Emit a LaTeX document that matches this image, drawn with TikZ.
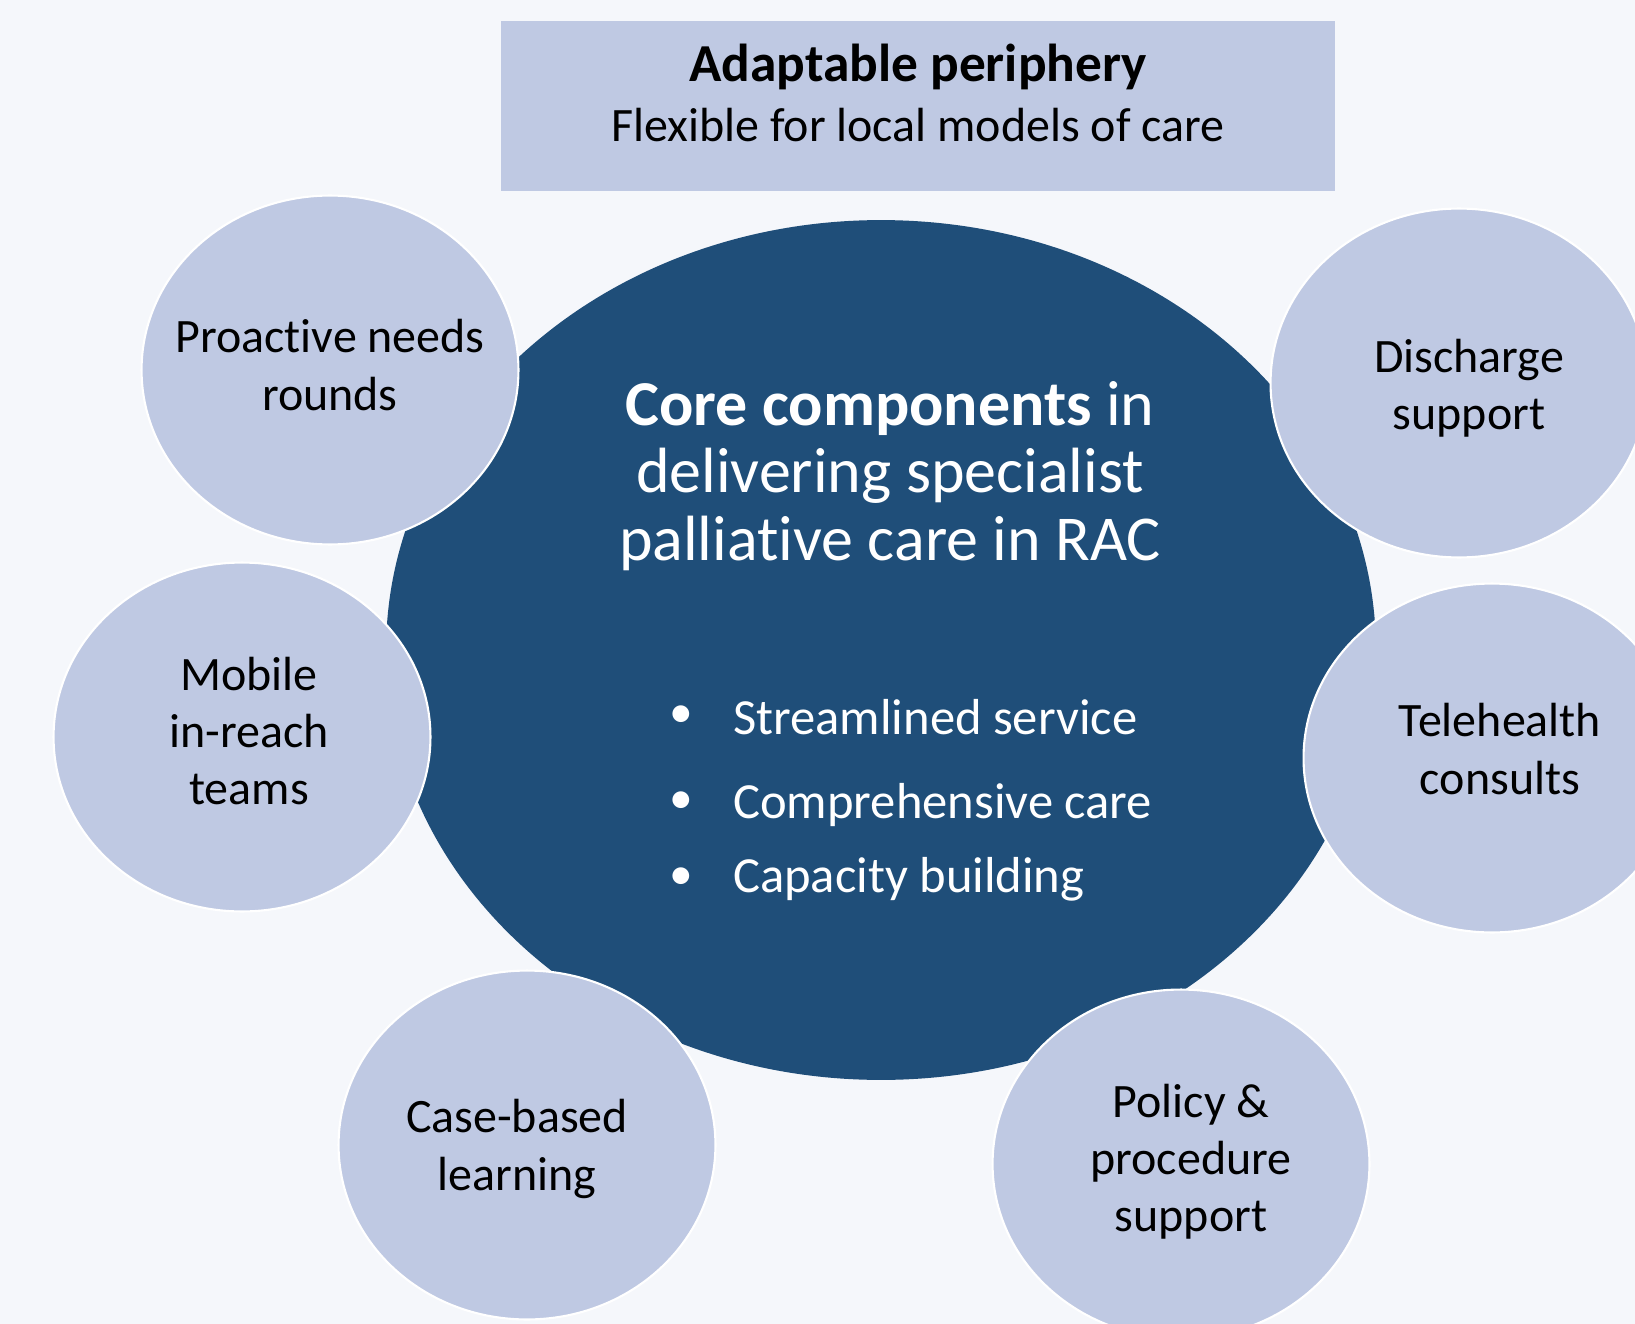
\documentclass[tikz,border=0pt]{standalone}
\usepackage{fontspec}
\setmainfont{Carlito}[Ligatures={NoCommon}]
\usetikzlibrary{shapes.geometric}
\newcommand\myti{t\kern0pt i}
\definecolor{bgcol}{HTML}{F5F7FB}
\definecolor{darkblue}{HTML}{1F4E79}
\definecolor{lightblue}{HTML}{BFC9E3}
\tikzset{
  periph/.style={ellipse, fill=lightblue, draw=white, line width=1.2pt,
    minimum width=7.54cm, minimum height=6.98cm, inner sep=0pt},
  ptext/.style={align=center, inner sep=0pt, text=black,
    font=\fontsize{27.3}{32.5}\selectfont},
  core/.style={ellipse, fill=darkblue, draw=none, minimum width=19.8cm, minimum height=17.2cm, inner sep=0pt},
  coretitle/.style={text=white, align=center, inner sep=0pt, font=\fontsize{36.4}{38.4}\selectfont},
  bulletmark/.style={text=white, font=\fontsize{27}{30}\selectfont},
  bullettext/.style={text=white, anchor=west, font=\fontsize{28.8}{32}\selectfont},
  topbox/.style={fill=lightblue, draw=none, minimum width=16.68cm, minimum height=3.4cm, inner sep=0pt}
}
\begin{document}
\begin{tikzpicture}[x=0.02cm, y=-0.02cm]
\useasboundingbox (0,0) rectangle (1635,1324);
\clip (0,0) rectangle (1635,1324);
\fill[bgcol] (0,0) rectangle (1635,1324);
% top box
\node[topbox] (top) at (918,106) {};
\node[font=\fontsize{30.4}{34}\selectfont\bfseries] (toptitle) at (918,67) {Adaptable periphery};
\node[font=\fontsize{27.3}{34}\selectfont] (topsub) at (918,125) {Flexible for local models of care};
% core
\node[core] (core) at (881,650) {};
\node[coretitle] (coretxt) at (890,476) {\textbf{Core components} in\\delivering specialist\\pallia\myti ve care in RAC};
\node[bulletmark] (b1) at (681,717) {•};
\node[bulletmark] (b2) at (681,803) {•};
\node[bulletmark] (b3) at (681,879) {•};
\node[bullettext] (t1) at (727,717) {Streamlined service};
\node[bullettext] (t2) at (727,805) {Comprehensive care};
\node[bullettext] (t3) at (727,879) {Capacity building};
% periphery circles
\node[periph] (proactive) at (330,370) {};
\node[periph] (discharge) at (1459,383) {};
\node[periph] (mobile) at (242,737) {};
\node[periph] (tele) at (1492,758) {};
\node[periph] (casebased) at (527,1145) {};
\node[periph] (policy) at (1181,1164) {};
\node[ptext] (proactivetxt) at (330,365) {Proac\myti ve needs\\rounds};
\node[ptext] (dischargetxt) at (1469,388) {Discharge\\support};
\node[ptext] (mobiletxt) at (249,731) {Mobile\\in-reach\\teams};
\node[ptext] (teletxt) at (1500,749) {Telehealth\\consults};
\node[ptext] (casebasedtxt) at (517,1149) {Case-based\\learning};
\node[ptext] (policytxt) at (1191,1162) {Policy \&\\procedure\\support};
\end{tikzpicture}
\end{document}
